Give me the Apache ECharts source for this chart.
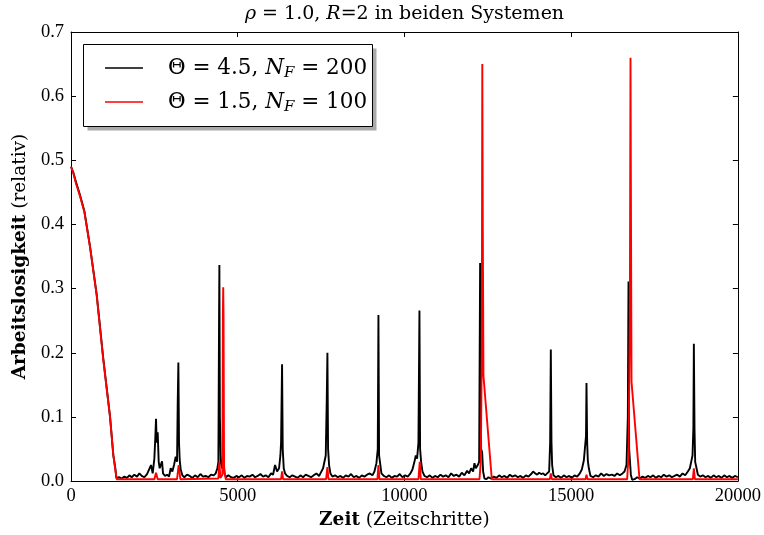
<!DOCTYPE html>
<html>
<head>
<meta charset="utf-8">
<script src="https://cdn.jsdelivr.net/npm/echarts@6/dist/echarts.min.js"></script>
<style>
  html, body { margin: 0; padding: 0; background: #fff; }
  #chart { width: 764px; height: 535px; }
</style>
</head>
<body>
<div id="chart"></div>
<script>
// Data: [Zeitschritt, Arbeitslosigkeit]
var blackName = 'Theta45';
var redName = 'Theta15';

var blackSeries = [
  [0,0.49],[70,0.481],[150,0.466],[270,0.446],[400,0.421],[570,0.366],[770,0.291],[970,0.19],[1170,0.101],[1270,0.04],[1330,0.02],[1360,0.005],
  [1450,0.006],[1520,0.004],[1600,0.007],[1680,0.005],[1750,0.009],[1820,0.006],[1900,0.01],[1980,0.007],[2050,0.012],[2120,0.008],[2200,0.006],[2280,0.011],
  [2340,0.018],[2400,0.025],[2450,0.012],[2500,0.035],[2530,0.07],[2550,0.097],[2570,0.06],[2600,0.076],[2630,0.03],[2660,0.02],[2700,0.018],[2730,0.031],[2760,0.012],
  [2820,0.008],[2880,0.01],[2940,0.007],[2990,0.02],[3040,0.015],[3090,0.025],[3140,0.038],[3180,0.03],[3200,0.12],[3220,0.185],[3240,0.06],[3260,0.033],[3290,0.018],
  [3340,0.009],[3400,0.006],[3480,0.01],[3560,0.008],[3640,0.005],[3720,0.009],[3800,0.006],[3880,0.011],[3960,0.007],[4040,0.008],[4120,0.006],[4200,0.01],[4280,0.009],
  [4340,0.012],[4390,0.02],[4420,0.03],[4440,0.25],[4450,0.337],[4465,0.1],[4490,0.03],[4530,0.02],[4570,0.05],[4600,0.012],[4650,0.006],
  [4720,0.009],[4800,0.006],[4880,0.005],[4960,0.008],[5040,0.006],[5120,0.009],[5200,0.005],[5280,0.008],[5360,0.007],[5440,0.01],[5520,0.006],[5600,0.008],[5680,0.011],
  [5760,0.007],[5840,0.009],[5920,0.006],[6000,0.012],[6060,0.01],[6120,0.025],[6180,0.015],[6240,0.02],[6280,0.04],[6300,0.06],[6330,0.182],[6350,0.05],[6380,0.02],
  [6420,0.012],[6480,0.008],[6560,0.006],[6640,0.009],[6720,0.007],[6800,0.005],[6880,0.009],[6960,0.006],[7040,0.01],[7120,0.008],[7200,0.006],[7280,0.009],[7360,0.012],
  [7440,0.008],[7500,0.014],[7560,0.02],[7600,0.023],[7640,0.04],[7670,0.126],[7690,0.2],[7710,0.05],[7740,0.025],[7780,0.012],
  [7840,0.007],[7920,0.009],[8000,0.006],[8080,0.008],[8160,0.005],[8240,0.009],[8320,0.007],[8400,0.011],[8480,0.006],[8560,0.008],[8640,0.005],[8720,0.009],[8800,0.007],
  [8880,0.01],[8960,0.012],[9040,0.009],[9100,0.015],[9160,0.028],[9200,0.05],[9220,0.259],[9240,0.04],[9270,0.028],[9310,0.012],
  [9380,0.008],[9460,0.006],[9540,0.009],[9620,0.005],[9700,0.008],[9780,0.007],[9860,0.011],[9940,0.006],[10020,0.009],[10100,0.007],[10180,0.012],[10240,0.018],
  [10300,0.03],[10340,0.04],[10380,0.035],[10420,0.06],[10450,0.266],[10470,0.05],[10500,0.03],[10540,0.015],
  [10600,0.008],[10680,0.006],[10760,0.009],[10840,0.005],[10920,0.008],[11000,0.006],[11080,0.01],[11160,0.007],[11240,0.009],[11320,0.006],[11400,0.012],[11480,0.008],
  [11560,0.01],[11640,0.007],[11720,0.013],[11800,0.009],[11880,0.016],[11940,0.012],[12000,0.02],[12060,0.015],[12100,0.028],[12140,0.02],[12200,0.025],[12240,0.03],
  [12270,0.34],[12300,0.05],[12330,0.045],[12360,0.015],[12400,0.004],[12460,0.003],[12520,0.006],[12600,0.004],
  [12680,0.007],[12760,0.005],[12840,0.009],[12920,0.006],[13000,0.008],[13080,0.005],[13160,0.01],[13240,0.007],[13320,0.009],[13400,0.006],[13480,0.008],[13560,0.005],
  [13640,0.009],[13720,0.007],[13800,0.011],[13860,0.015],[13920,0.012],[13980,0.01],[14040,0.013],[14100,0.011],[14160,0.012],[14220,0.009],[14280,0.012],[14340,0.015],
  [14370,0.06],[14390,0.205],[14410,0.06],[14430,0.025],[14470,0.009],
  [14540,0.006],[14620,0.008],[14700,0.005],[14780,0.009],[14860,0.006],[14940,0.008],[15020,0.005],[15100,0.009],[15180,0.007],[15260,0.012],[15320,0.018],
  [15380,0.032],[15420,0.03],[15445,0.07],[15460,0.153],[15480,0.06],[15500,0.032],[15530,0.02],
  [15580,0.008],[15660,0.006],[15740,0.009],[15820,0.007],[15900,0.012],[15980,0.008],[16060,0.011],[16140,0.009],[16220,0.01],[16300,0.008],[16380,0.012],[16460,0.009],
  [16540,0.012],[16600,0.015],[16660,0.025],[16700,0.1],[16720,0.311],[16740,0.05],[16760,0.05],[16790,0.01],[16830,0.002],
  [16900,0.003],[16980,0.006],[17060,0.004],[17140,0.007],[17220,0.005],[17300,0.008],[17380,0.006],[17460,0.009],[17540,0.005],[17620,0.008],[17700,0.006],[17780,0.01],
  [17860,0.007],[17940,0.009],[18020,0.006],[18100,0.008],[18180,0.01],[18260,0.007],[18340,0.012],[18420,0.009],[18500,0.015],[18560,0.02],[18600,0.03],[18640,0.04],
  [18665,0.082],[18680,0.214],[18700,0.08],[18720,0.03],[18760,0.02],[18800,0.01],
  [18870,0.007],[18950,0.009],[19030,0.006],[19110,0.008],[19190,0.005],[19270,0.009],[19350,0.006],[19430,0.008],[19510,0.005],[19590,0.009],[19670,0.006],[19750,0.008],
  [19830,0.005],[19910,0.008],[20000,0.006]
];

var redSeries = [
  [0,0.49],[70,0.48],[150,0.464],[270,0.444],[400,0.42],[570,0.365],[770,0.29],[970,0.188],[1170,0.1],[1270,0.04],[1330,0.017],[1370,0.003],
  [2500,0.003],[2550,0.013],[2600,0.003],[3180,0.003],[3230,0.025],[3280,0.003],
  [4420,0.004],[4450,0.03],[4480,0.005],[4540,0.01],[4555,0.256],[4565,0.302],[4575,0.256],[4590,0.02],[4640,0.003],
  [6300,0.003],[6330,0.015],[6360,0.003],[7650,0.003],[7690,0.022],[7720,0.003],[9190,0.003],[9220,0.025],[9250,0.003],
  [10420,0.003],[10460,0.03],[10490,0.003],[12250,0.003],[12290,0.03],[12320,0.2],[12335,0.65],[12350,0.4],[12370,0.164],[12620,0.003],
  [14360,0.003],[14390,0.012],[14420,0.003],[15430,0.003],[15460,0.01],[15490,0.003],
  [16680,0.003],[16720,0.04],[16760,0.25],[16780,0.66],[16795,0.4],[16810,0.155],[17050,0.003],
  [18650,0.003],[18680,0.02],[18710,0.003],[20000,0.003]
];

var xTicks = [0, 5000, 10000, 15000, 20000];
var yTicks = [0.0, 0.1, 0.2, 0.3, 0.4, 0.5, 0.6, 0.7];

var legendLabels = {};
legendLabels[blackName] = '{sp|}{t|\u0398 = 4.5, }{it|N}{sub|F}{t| = 200}';
legendLabels[redName] = '{sp|}{t|\u0398 = 1.5, }{it|N}{sub|F}{t| = 100}';

var serif = 'DejaVu Serif';
var tickFont = 'Liberation Serif';

var chart = echarts.init(document.getElementById('chart'), null, { renderer: 'canvas' });

function tickAxis(pos, showLabel, isX) {
  return {
    type: 'value',
    position: pos,
    min: isX ? xTicks[0] : yTicks[0],
    max: isX ? xTicks[xTicks.length - 1] : yTicks[yTicks.length - 1],
    interval: isX ? 5000 : 0.1,
    axisLine: { show: true, onZero: false, lineStyle: { color: '#000', width: 1 } },
    axisTick: { show: true, inside: true, length: 5, lineStyle: { color: '#000', width: 1 } },
    splitLine: { show: false },
    axisLabel: {
      show: showLabel,
      color: '#000',
      fontFamily: tickFont,
      fontSize: 18.5,
      margin: isX ? 6 : 7,
      formatter: isX ? function (v) { return String(v); } : function (v) { return v.toFixed(1); }
    }
  };
}

var xMain = tickAxis('bottom', true, true);
xMain.name = '{b|Zeit} (Zeitschritte)';
xMain.nameLocation = 'middle';
xMain.nameGap = 27;
xMain.nameTextStyle = { color: '#000', fontFamily: serif, fontSize: 18.5,
  rich: { b: { fontFamily: serif, fontSize: 18.5, fontWeight: 'bold', color: '#000' } } };

var yMain = tickAxis('left', true, false);
yMain.name = '{b|Arbeitslosigkeit} (relativ)';
yMain.nameLocation = 'middle';
yMain.nameRotate = 90;
yMain.nameGap = 36;
yMain.nameTextStyle = { color: '#000', fontFamily: serif, fontSize: 18.5,
  rich: { b: { fontFamily: serif, fontSize: 18.5, fontWeight: 'bold', color: '#000' } } };

var option = {
  animation: false,
  backgroundColor: '#fff',
  grid: { left: 71, right: 26, top: 32, bottom: 52 },
  xAxis: [xMain, tickAxis('top', false, true)],
  yAxis: [yMain, tickAxis('right', false, false)],
  legend: {
    orient: 'vertical',
    left: 100,
    top: 52,
    itemWidth: 38,
    itemHeight: 1.6,
    itemGap: 10,
    icon: 'rect',
    z: 10,
    selectedMode: false,
    data: [blackName, redName],
    formatter: function (name) { return legendLabels[name]; },
    textStyle: {
      color: '#000',
      rich: {
        sp: { width: 20 },
        t: { fontFamily: serif, fontSize: 21.5, lineHeight: 26, color: '#000' },
        it: { fontFamily: serif, fontSize: 21.5, lineHeight: 26, fontStyle: 'italic', color: '#000' },
        sub: { fontFamily: serif, fontSize: 15, lineHeight: 15, fontStyle: 'italic', verticalAlign: 'bottom', color: '#000' }
      }
    }
  },
  graphic: [
    { type: 'rect', z: 1, shape: { x: 87.5, y: 48.5, width: 289, height: 82 }, style: { fill: '#aaaaaa' } },
    { type: 'rect', z: 2, shape: { x: 83.5, y: 44.5, width: 289, height: 82 }, style: { fill: '#fff', stroke: '#000', lineWidth: 1 } },
    {
      type: 'text', z: 3, x: 404.5, y: 14,
      style: {
        text: '{i|\u03c1} = 1.0, {i|R}=2 in beiden Systemen',
        fontFamily: serif, fontSize: 19, fill: '#000', align: 'center', verticalAlign: 'middle',
        rich: {
          i: { fontFamily: serif, fontSize: 19, fontStyle: 'italic', fill: '#000' }
        }
      }
    }
  ],
  series: [
    {
      name: blackName, type: 'line', data: blackSeries, showSymbol: false, symbol: 'none',
      lineStyle: { color: '#000', width: 1.9 }, itemStyle: { color: '#000' }, z: 2
    },
    {
      name: redName, type: 'line', data: redSeries, showSymbol: false, symbol: 'none',
      lineStyle: { color: '#ff0000', width: 1.9 }, itemStyle: { color: '#ff0000' }, z: 3
    }
  ]
};

chart.setOption(option);
</script>
</body>
</html>
